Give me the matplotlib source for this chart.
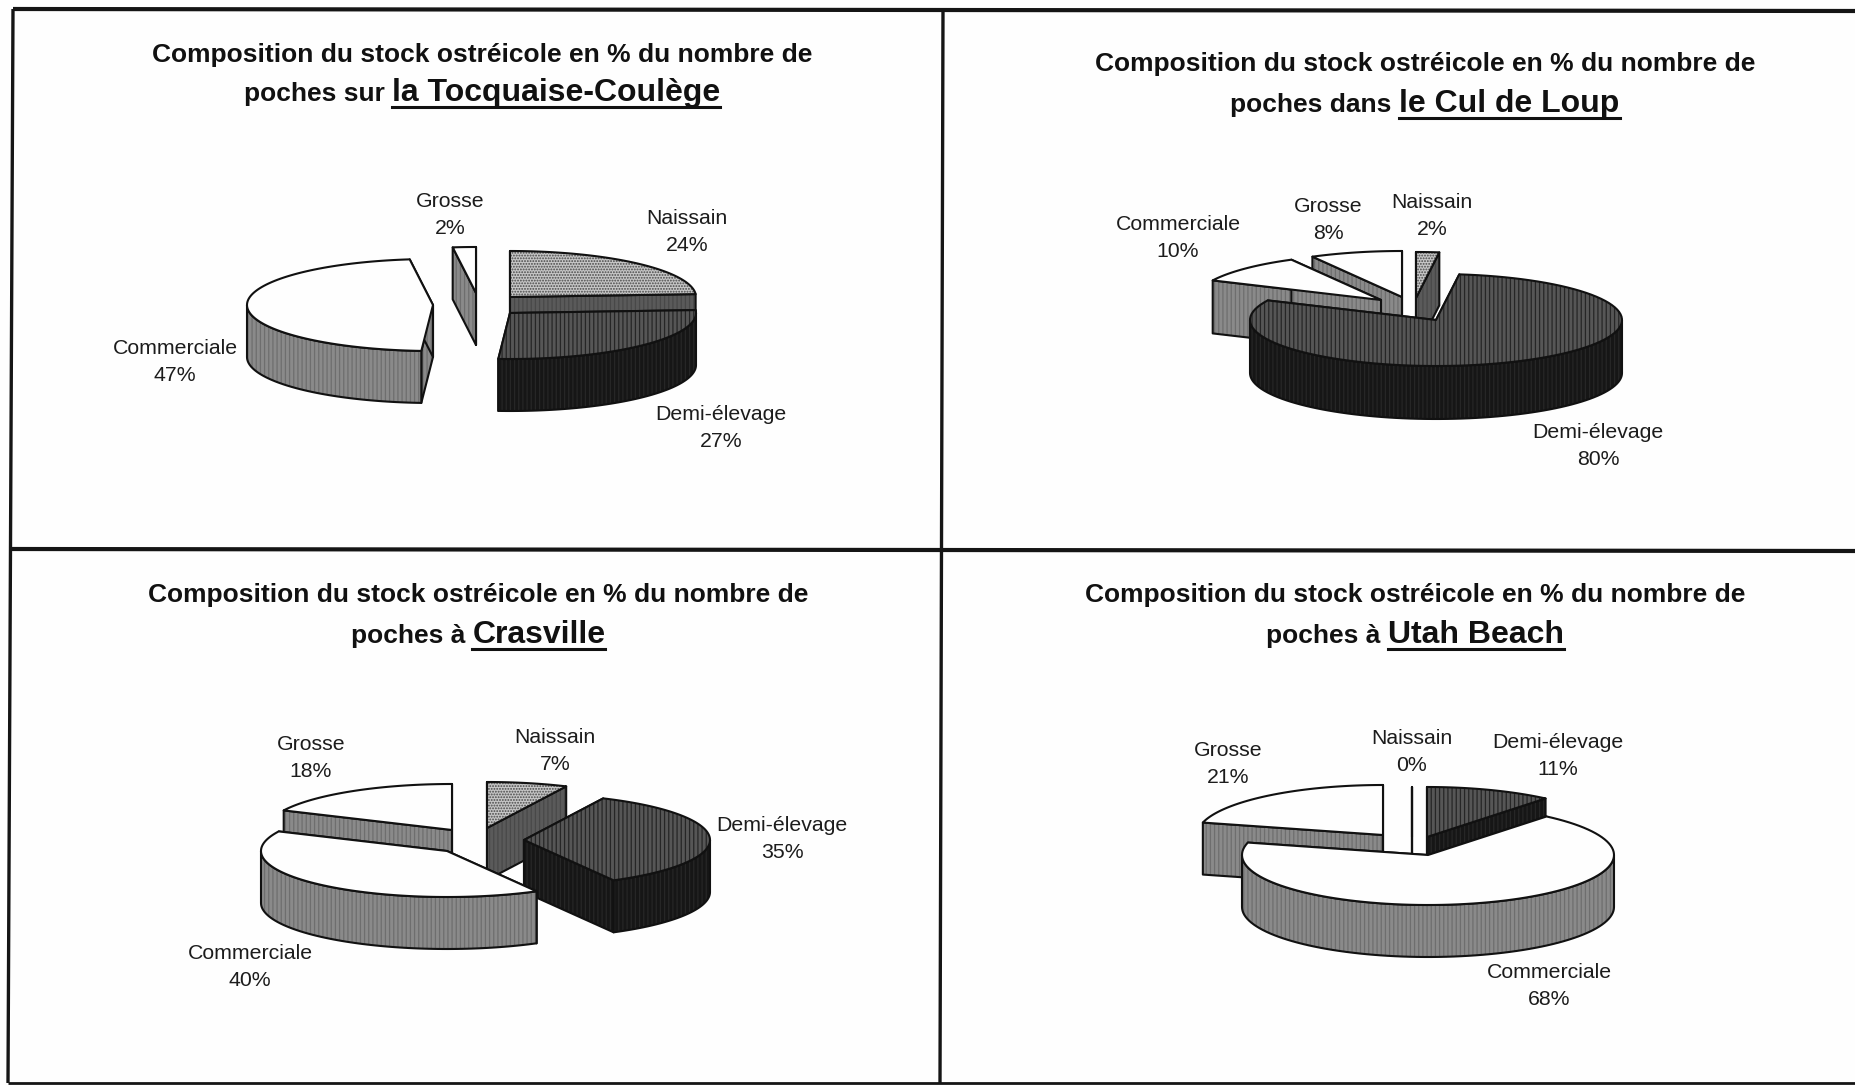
import numpy as np
import matplotlib
matplotlib.use("Agg")
import matplotlib.pyplot as plt
from matplotlib.patches import Polygon

plt.rcParams['font.family'] = ['Liberation Sans', 'DejaVu Sans']
plt.rcParams['hatch.linewidth'] = 0.9

categories = ["Naissain", "Demi-élevage", "Commerciale", "Grosse"]

tocquaise = [24, 27, 47, 2]
cul_de_loup = [2, 80, 10, 8]
crasville = [7, 35, 40, 18]
utah_beach = [0, 11, 68, 21]

# top colour, wall colour, stripe colour of each category
top_colors = ["#c6c6c6", "#565656", "#fefefe", "#fefefe"]
wall_colors = ["#5a5a5a", "#161616", "#8a8a8a", "#8a8a8a"]
stripe_colors = ["#484848", "#262626", "#6e6e6e", "#6e6e6e"]
top_hatch = ["......", "||||", None, None]

fig = plt.figure(figsize=(18.56, 10.85), dpi=100, facecolor="#fefefe")
ax = fig.add_axes([0, 0, 1, 1])
ax.set_xlim(0, 1856)
ax.set_ylim(1085, 0)
ax.axis("off")
rend = fig.canvas.get_renderer()


def rim(apex, rx, ry, ang):
    a = np.radians(ang)
    return np.column_stack([apex[0] + rx*np.sin(a), apex[1] - ry*np.cos(a)])


def shape(pts, face, hatch=None, stripe=None, z=2):
    if hatch:
        ax.add_patch(Polygon(pts, closed=True, facecolor=face, edgecolor=stripe,
                             hatch=hatch, lw=0, zorder=z))
        ax.add_patch(Polygon(pts, closed=True, fill=False, edgecolor="#111111",
                             lw=1.5, joinstyle="round", zorder=z))
    else:
        ax.add_patch(Polygon(pts, closed=True, facecolor=face, edgecolor="#111111",
                             lw=1.5, joinstyle="round", zorder=z))


def slice3d(i, t1, t2, apex, rx, ry, depth, z):
    wall = wall_colors[i]
    stripe = stripe_colors[i]
    drop = np.array([0, depth])
    ap = np.array(apex, dtype=float)

    # the two cut faces
    for t in (t1, t2):
        p = rim(ap, rx, ry, t)[0]
        shape([ap, p, p + drop, ap + drop], wall, "||||", stripe, z)

    # outer wall, only the part that faces the viewer
    lo, hi = max(t1, 90), min(t2, 270)
    if hi > lo:
        arc = rim(ap, rx, ry, np.linspace(lo, hi, 80))
        shape(np.vstack([arc, (arc + drop)[::-1]]), wall, "||||", stripe, z)

    arc = rim(ap, rx, ry, np.linspace(t1, t2, 100))
    shape(np.vstack([[ap], arc]), top_colors[i], top_hatch[i], stripe, z)


def pie3d(values, apexes, rx, ry, depth):
    edges = np.concatenate([[0], np.cumsum(values)])*3.6
    # smaller slices go behind the larger ones
    for z, i in enumerate(np.argsort(values, kind="stable")):
        slice3d(i, edges[i], edges[i+1], apexes[i], rx, ry, depth, 2 + z)


def labels(values, spots):
    for name, v, (x, y) in zip(categories, values, spots):
        ax.text(x, y + 2, f"{name}\n{v}%", ha="center", va="center", fontsize=15.3,
                color="#1c1c1c", linespacing=1.56, zorder=20)


def title(cx, y1, y2, lead, place, size=19, big=23):
    ax.text(cx, y1, "Composition du stock ostréicole en % du nombre de", ha="center",
            va="center", fontsize=size, fontweight="bold", color="#111111", zorder=20)
    a = ax.text(0, y2, lead + " ", ha="left", va="baseline", fontsize=size,
                fontweight="bold", color="#111111", zorder=20)
    b = ax.text(0, y2, place, ha="left", va="baseline", fontsize=big,
                fontweight="bold", color="#111111", zorder=20)
    wa = a.get_window_extent(rend).width
    wb = b.get_window_extent(rend).width
    x0 = cx - (wa + wb)/2
    a.set_x(x0)
    b.set_x(x0 + wa)
    ax.plot([x0 + wa, x0 + wa + wb], [y2 + 6, y2 + 6], color="#111111", lw=2.2, zorder=20)


# cadre
for xs, ys, w in [((13, 1856), (9, 11), 3), ((10, 1856), (549, 551), 3), ((8, 1856), (1083, 1083), 2),
                  ((13, 8), (9, 1083), 2.4), ((943, 940), (9, 1083), 2.4)]:
    ax.plot(xs, ys, color="#151515", lw=w, zorder=1, solid_capstyle="butt")

pie3d(tocquaise, [(510, 297), (510, 313), (433, 305), (476, 293)], 186, 46, 52)
labels(tocquaise, [(687, 230), (721, 426), (175, 360), (450, 213)])
title(482, 55, 101, "poches sur", "la Tocquaise-Coulège")

pie3d(cul_de_loup, [(1416, 298), (1436, 320), (1381, 300), (1402, 297)], 186, 46, 53)
labels(cul_de_loup, [(1432, 214), (1598, 444), (1178, 236), (1328, 218)])
title(1425, 64, 112, "poches dans", "le Cul de Loup")

pie3d(crasville, [(487, 828), (524, 840), (447, 851), (452, 830)], 186, 46, 52)
labels(crasville, [(555, 749), (782, 837), (250, 965), (311, 756)])
title(478, 595, 643, "poches à", "Crasville")

pie3d(utah_beach, [(1412, 837), (1427, 837), (1428, 855), (1383, 835)], 186, 50, 52)
labels(utah_beach, [(1412, 750), (1558, 754), (1549, 984), (1228, 762)])
title(1415, 595, 643, "poches à", "Utah Beach")

fig.savefig("out.png", dpi=100, facecolor=fig.get_facecolor())
